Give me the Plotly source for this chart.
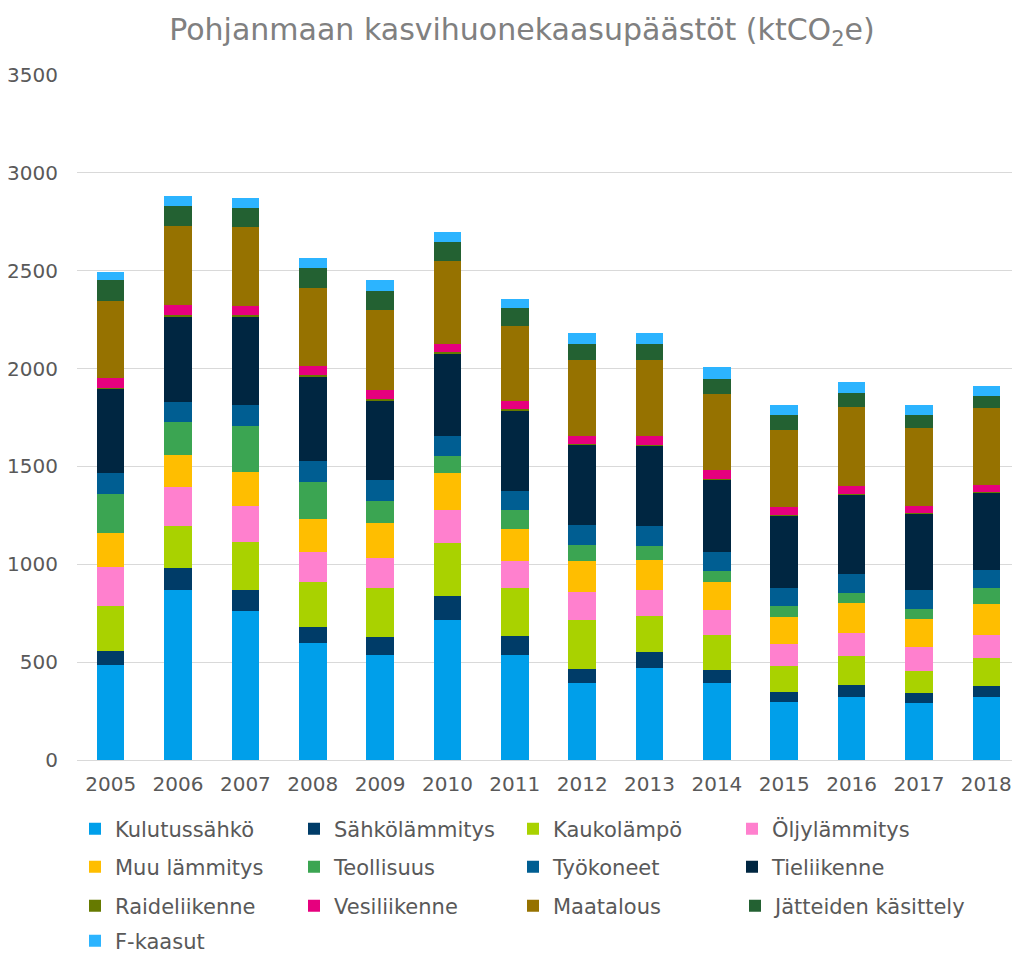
import plotly.graph_objects as go

# Pohjanmaan kasvihuonekaasupäästöt, ktCO2e
years = ["2005", "2006", "2007", "2008", "2009", "2010", "2011",
         "2012", "2013", "2014", "2015", "2016", "2017", "2018"]

kulutussahko = [485, 871, 759, 599, 536, 714, 536, 395, 468, 391, 294, 323, 291, 323]
sahkolammitys = [72, 109, 112, 83, 90, 124, 98, 68, 83, 67, 51, 60, 49, 56]
kaukolampo = [230, 214, 245, 230, 252, 272, 244, 251, 187, 182, 135, 148, 113, 141]
oljylammitys = [198, 199, 182, 151, 154, 167, 139, 145, 131, 125, 112, 119, 124, 120]
muu_lammitys = [173, 165, 176, 167, 177, 192, 162, 156, 151, 142, 141, 152, 146, 156]
teollisuus = [203, 168, 235, 193, 114, 85, 97, 84, 73, 57, 53, 53, 51, 85]
tyokoneet = [105, 104, 106, 103, 106, 99, 96, 100, 101, 97, 93, 94, 95, 92]
tieliikenne = [430, 435, 450, 435, 408, 424, 414, 411, 411, 371, 371, 405, 388, 392]
raideliikenne = [7, 7, 7, 6, 6, 6, 5, 5, 5, 5, 4, 4, 4, 4]
vesiliikenne = [48, 54, 48, 44, 45, 45, 41, 43, 43, 43, 37, 40, 38, 34]
maatalous = [394, 401, 401, 402, 412, 423, 385, 386, 391, 391, 393, 405, 396, 396]
jatteet = [106, 104, 99, 101, 98, 94, 91, 81, 80, 78, 78, 74, 67, 62]
f_kaasut = [42, 49, 53, 51, 54, 51, 50, 55, 56, 58, 53, 54, 53, 49]

# (name, values, colour, legend id)
series = [
    ("Kulutussähkö", kulutussahko, "#009FEA", "legend"),
    ("Sähkölämmitys", sahkolammitys, "#003C68", "legend"),
    ("Kaukolämpö", kaukolampo, "#A9D200", "legend"),
    ("Öljylämmitys", oljylammitys, "#FF80CE", "legend"),
    ("Muu lämmitys", muu_lammitys, "#FFBE00", "legend2"),
    ("Teollisuus", teollisuus, "#3BA552", "legend2"),
    ("Työkoneet", tyokoneet, "#005E92", "legend2"),
    ("Tieliikenne", tieliikenne, "#002641", "legend2"),
    ("Raideliikenne", raideliikenne, "#667A00", "legend3"),
    ("Vesiliikenne", vesiliikenne, "#E6007E", "legend3"),
    ("Maatalous", maatalous, "#967200", "legend3"),
    ("Jätteiden käsittely", jatteet, "#236132", "legend5"),
    ("F-kaasut", f_kaasut, "#2CB4FF", "legend4"),
]

fig = go.Figure()
for name, vals, col, leg in series:
    fig.add_trace(go.Bar(x=years, y=vals, name=name, legend=leg,
                         marker=dict(color=col, line=dict(width=0))))

txt = "#595959"
font = "DejaVu Sans"

# page body has an 8px margin, so the figure is drawn 8px smaller
W, H = 1012, 946
ENTRY = 174
PITCH = 220  # observed spacing between legend columns


def row(ypx, col=0):
    # one legend per row, placed in container pixels so it doesn't push margins
    return dict(orientation="h", xref="container", yref="container",
                x=(67 + col * PITCH) / W, xanchor="left",
                y=1 - ypx / H, yanchor="middle",
                traceorder="normal", entrywidth=ENTRY if col == 0 else 0,
                entrywidthmode="pixels",
                font=dict(family=font, size=21, color=txt), bgcolor="rgba(0,0,0,0)")


fig.update_layout(
    barmode="stack",
    bargap=0.59,
    width=W,
    height=H,
    margin=dict(l=69, r=0, t=67, b=194),
    plot_bgcolor="white",
    paper_bgcolor="white",
    font=dict(family=font, color=txt),
    title=dict(text="Pohjanmaan kasvihuonekaasupäästöt (ktCO<sub>2</sub>e)",
               x=514 / W, xref="container", xanchor="center",
               y=1 - 21 / H, yref="container", yanchor="middle",
               font=dict(family=font, size=30, color="#808080")),
    xaxis=dict(tickfont=dict(size=20, color=txt), showgrid=False,
               showline=True, linecolor="#d9d9d9", linewidth=1,
               ticklabelstandoff=6),
    yaxis=dict(range=[0, 3500], dtick=500, tickfont=dict(size=20, color=txt),
               gridcolor="#d9d9d9", gridwidth=1, zeroline=False,
               ticklabelstandoff=18),
    legend=row(821),
    legend2=row(859),
    legend3=row(898),
    legend5=row(898, col=3),
    legend4=row(933),
)

fig.write_html("out.html")
